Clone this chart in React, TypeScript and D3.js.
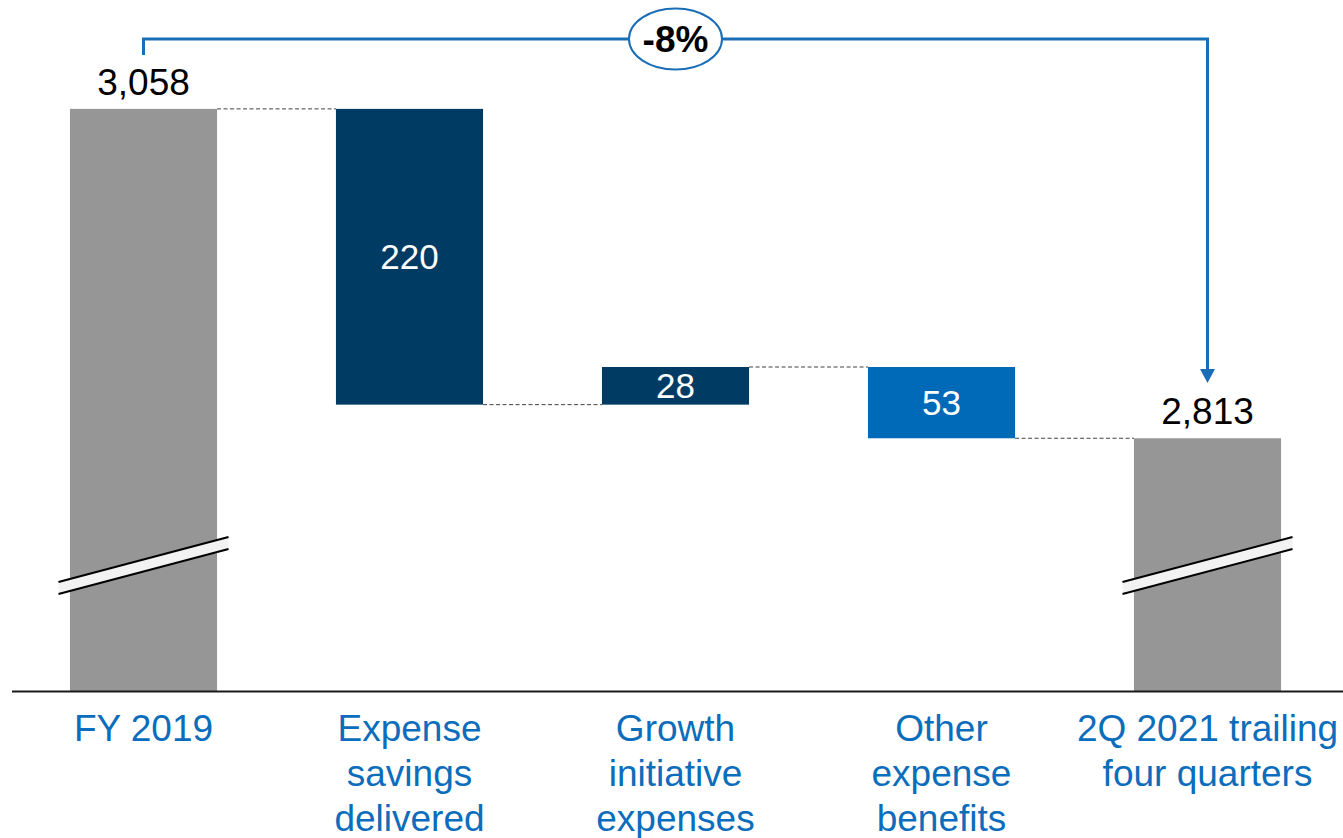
import React from "react";
import * as d3 from "d3";

const categories = ["FY 2019", "Expense savings delivered", "Growth initiative expenses", "Other expense benefits", "2Q 2021 trailing four quarters"];
const categoryLines = [["FY 2019"], ["Expense", "savings", "delivered"], ["Growth", "initiative", "expenses"], ["Other", "expense", "benefits"], ["2Q 2021 trailing", "four quarters"]];
const values = [3058, -220, 28, -53, 2813];
const kinds = ["total", "delta", "delta", "delta", "total"];
const valueLabels = ["3,058", "220", "28", "53", "2,813"];
const changeLabel = "-8%";
const axisDomain = [2625, 3139]; // broken axis: visible range of values

const W = 1343;
const H = 838;
const BASE = 691;
const FONT = "'Liberation Sans', Arial, Helvetica, sans-serif";
const colors = ["#969696", "#003B64", "#003B64", "#006AB8", "#969696"];
const BLUE_TEXT = "#0B6DBB";
const BLUE_LINE = "#1A6EB8";

export default function App() {
  const x = d3.scaleBand<string>().domain(categories).range([10.5, 1340.5]).paddingInner(0.447).paddingOuter(0.2235);
  const y = d3.scaleLinear().domain(axisDomain).range([BASE, 0]);
  const bw = x.bandwidth();

  let running = 0;
  const segs = values.map((v, i) => {
    if (kinds[i] === "total") {
      running = v;
      return { top: y(v), bottom: BASE, level: v };
    }
    const start = running;
    running = start + v;
    return { top: y(Math.max(start, running)), bottom: y(Math.min(start, running)), level: running };
  });

  const cx = (i: number) => (x(categories[i]) as number) + bw / 2;
  const x0 = cx(0);
  const x4 = cx(4);
  const topY = 39;
  const mid = (x0 + x4) / 2;

  const breakMark = (c: number, key: string) => {
    const l = c - 85, r = c + 85;
    const yl = 588, yr = 543;
    const th = 6;
    return (
      <g key={key}>
        <polygon points={`${l},${yl - th} ${r},${yr - th} ${r},${yr + th} ${l},${yl + th}`} fill="#F2F2F2" />
        <line x1={l} y1={yl - th} x2={r} y2={yr - th} stroke="#000" strokeWidth={2} />
        <line x1={l} y1={yl + th} x2={r} y2={yr + th} stroke="#000" strokeWidth={2} />
      </g>
    );
  };

  return (
    <svg width={W} height={H} style={{ position: "absolute", left: 0, top: 0, background: "#fff" }} fontFamily={FONT}>
      {segs.slice(0, -1).map((s, i) => {
        const ly = y(s.level);
        return (
          <line key={"c" + i} x1={(x(categories[i]) as number) + bw} x2={x(categories[i + 1]) as number} y1={ly} y2={ly}
            stroke="#404040" strokeWidth={1} strokeDasharray="4 2.5" />
        );
      })}
      {segs.map((s, i) => (
        <rect key={"b" + i} x={x(categories[i]) as number} y={s.top} width={bw} height={s.bottom - s.top} fill={colors[i]} />
      ))}
      {kinds.map((k, i) => (k === "total" ? breakMark(cx(i), "br" + i) : null))}
      <line x1={12} x2={W} y1={BASE + 0.5} y2={BASE + 0.5} stroke="#1a1a1a" strokeWidth={2} />
      {segs.map((s, i) =>
        kinds[i] === "total" ? (
          <text key={"v" + i} x={cx(i)} y={s.top - 14} textAnchor="middle" fontSize={37} fill="#000">{valueLabels[i]}</text>
        ) : (
          <text key={"v" + i} x={cx(i)} y={(s.top + s.bottom) / 2} dy="0.35em" textAnchor="middle" fontSize={35} fill="#fff">{valueLabels[i]}</text>
        )
      )}
      {categoryLines.map((lines, i) => (
        <text key={"k" + i} x={cx(i)} y={741} textAnchor="middle" fontSize={37} fill={BLUE_TEXT}>
          {lines.map((ln, j) => (
            <tspan key={j} x={cx(i)} dy={j === 0 ? 0 : 45}>{ln}</tspan>
          ))}
        </text>
      ))}
      <path d={`M${x0},55 V${topY} H${x4} V370`} fill="none" stroke={BLUE_LINE} strokeWidth={3} />
      <polygon points={`${x4 - 7.5},369 ${x4 + 7.5},369 ${x4},383`} fill={BLUE_LINE} />
      <ellipse cx={mid} cy={topY} rx={46.5} ry={30.5} fill="#fff" stroke={BLUE_LINE} strokeWidth={2} />
      <text x={mid} y={topY} dy="0.36em" textAnchor="middle" fontSize={37} fontWeight="bold" fill="#000">{changeLabel}</text>
    </svg>
  );
}
